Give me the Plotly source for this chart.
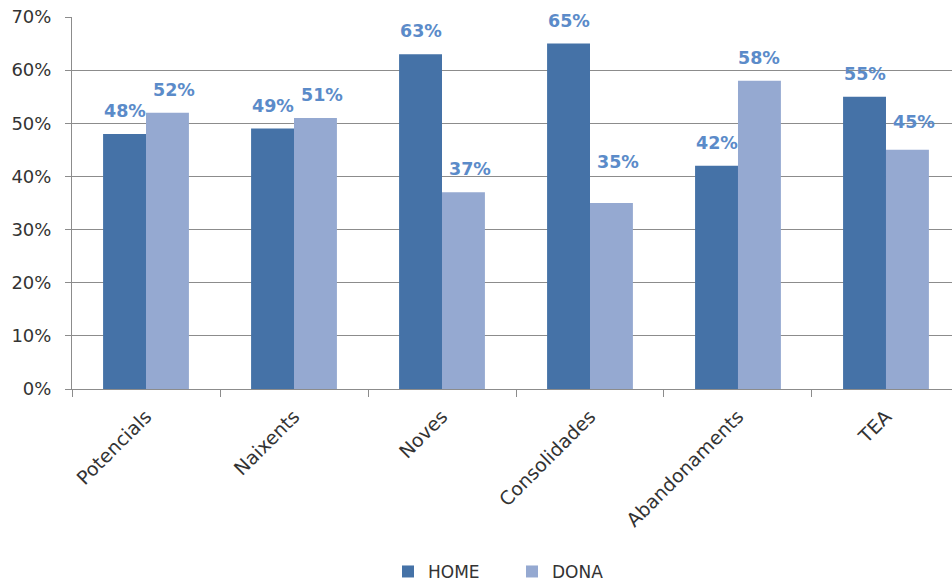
import plotly.graph_objects as go

# Survey shares by stage, split by sex
categories = ["Potencials", "Naixents", "Noves", "Consolidades", "Abandonaments", "TEA"]
home = [0.48, 0.49, 0.63, 0.65, 0.42, 0.55]
dona = [0.52, 0.51, 0.37, 0.35, 0.58, 0.45]
y_ticks = [0, 0.1, 0.2, 0.3, 0.4, 0.5, 0.6, 0.7]

HOME_COLOR = "#4572A7"
DONA_COLOR = "#95A9D1"
LABEL_COLOR = "#5B8BC9"
TEXT_COLOR = "#333333"
GRID_COLOR = "#8C8C8C"
FONT = "DejaVu Sans"

BARGAP = 0.42
half = (1 - BARGAP) / 4  # centre offset of each bar within its category

# label nudges (pixels) for a few labels that sit off their default spot
label_lift = {("DONA", 3): 41, ("DONA", 5): 28}
label_dx = {"HOME": 0, "DONA": 7}

fig = go.Figure()
fig.add_trace(go.Bar(name="HOME", x=categories, y=home, marker_color=HOME_COLOR,
                     marker_line_width=0))
fig.add_trace(go.Bar(name="DONA", x=categories, y=dona, marker_color=DONA_COLOR,
                     marker_line_width=0))

annotations = []
for name, vals, sign in (("HOME", home, -1), ("DONA", dona, 1)):
    for i, v in enumerate(vals):
        annotations.append(dict(
            x=i + sign * half, y=v, xref="x", yref="y",
            text=f"{round(v * 100)}%", showarrow=False,
            yanchor="middle", xanchor="center",
            yshift=label_lift.get((name, i), 23),
            xshift=0 if (name, i) == ("DONA", 4) else label_dx[name],
            font=dict(family=FONT, size=17.5, color=LABEL_COLOR, weight="bold"),
        ))

fig.update_layout(
    width=952, height=583,
    margin=dict(l=72, r=0, t=17, b=194),
    paper_bgcolor="white", plot_bgcolor="white",
    barmode="group", bargap=BARGAP, bargroupgap=0,
    font=dict(family=FONT, size=16, color=TEXT_COLOR),
    showlegend=True,
    legend=dict(orientation="h", x=0.5, xanchor="center",
                yref="container", y=0.019, yanchor="middle",
                font=dict(family=FONT, size=17, color=TEXT_COLOR),
                itemwidth=30, entrywidth=79, traceorder="normal"),
    annotations=annotations,
)
fig.update_xaxes(
    range=[-0.5, 5.446], showgrid=False,
    showline=True, linecolor=GRID_COLOR, linewidth=1,
    ticks="outside", tickson="boundaries", ticklen=7, tickcolor=GRID_COLOR,
    tickangle=-45, ticklabelstandoff=8,
    tickfont=dict(family=FONT, size=19, color=TEXT_COLOR),
)
fig.update_yaxes(
    range=[0, 0.7], tickvals=y_ticks, tickformat=".0%",
    showgrid=True, gridcolor=GRID_COLOR, gridwidth=1,
    showline=True, linecolor=GRID_COLOR, linewidth=1,
    ticks="outside", ticklen=6, tickcolor=GRID_COLOR,
    zeroline=False, ticklabelstandoff=10,
    tickfont=dict(family=FONT, size=18, color=TEXT_COLOR),
)

fig.write_html("out.html")
